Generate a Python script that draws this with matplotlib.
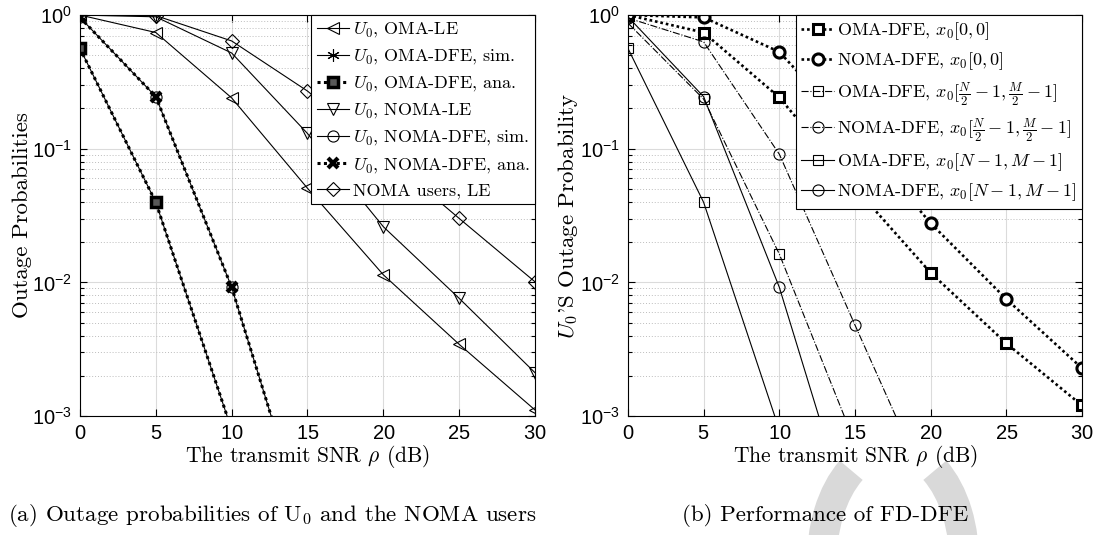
import matplotlib
matplotlib.use("Agg")
import matplotlib.pyplot as plt
from matplotlib.patches import Arc
from matplotlib.ticker import NullLocator, LogLocator
from matplotlib.transforms import IdentityTransform

snr = [0, 5, 10, 15, 20, 25, 30]

# (a) outage of U0 and of the NOMA users
u0_oma_le = [1.0, 0.74, 0.24, 0.0506, 0.0114, 0.00344, 0.00111]
u0_noma_le = [1.0, 0.97, 0.52, 0.130, 0.0261, 0.0076, 0.00211]
noma_users_le = [1.0, 0.99, 0.64, 0.27, 0.091, 0.0301, 0.0101]
u0_oma_dfe = [0.563, 0.0397, 0.00079]
u0_noma_dfe = [0.96, 0.245, 0.0092, 0.00013]

# (b) FD-DFE, different symbol positions
oma_dfe_00 = [1.0, 0.74, 0.242, 0.0511, 0.0118, 0.0035, 0.0012]
noma_dfe_00 = [1.0, 0.96, 0.53, 0.130, 0.0277, 0.0075, 0.00228]
oma_dfe_mid = [0.87, 0.235, 0.0163, 0.00063]
noma_dfe_mid = [0.95, 0.63, 0.091, 0.0048, 0.00026]
oma_dfe_last = [0.563, 0.0397, 0.00079]
noma_dfe_last = [0.97, 0.245, 0.0092, 0.00013]

labels_a = [r'$U_0$, OMA-LE', r'$U_0$, OMA-DFE, sim.', r'$U_0$, OMA-DFE, ana.',
            r'$U_0$, NOMA-LE', r'$U_0$, NOMA-DFE, sim.', r'$U_0$, NOMA-DFE, ana.',
            'NOMA users, LE']
labels_b = [r'OMA-DFE, $x_0[0,0]$', r'NOMA-DFE, $x_0[0,0]$',
            r'OMA-DFE, $x_0[\frac{N}{2}-1,\frac{M}{2}-1]$',
            r'NOMA-DFE, $x_0[\frac{N}{2}-1,\frac{M}{2}-1]$',
            r'OMA-DFE, $x_0[N-1,M-1]$', r'NOMA-DFE, $x_0[N-1,M-1]$']

plt.rcParams['font.family'] = 'cmr10'
plt.rcParams['mathtext.fontset'] = 'cm'
plt.rcParams['axes.unicode_minus'] = False
plt.rcParams['axes.formatter.use_mathtext'] = True

fig = plt.figure(figsize=(10.94, 5.35), dpi=100)
ax1 = fig.add_axes([0.0731, 0.2224, 0.4159, 0.7495])
ax2 = fig.add_axes([0.5740, 0.2224, 0.4150, 0.7495])

thin = dict(color='k', lw=0.8, mfc='none', mew=0.8)
bold_dots = dict(color='k', lw=1.9, ls=(0, (1, 1.1)), mfc='white', mew=2.2)


def curve(ax, y, **kw):
    ax.plot(snr[:len(y)], y, **kw)


# ---- (a)
curve(ax1, u0_oma_le, marker='<', ms=8, label=labels_a[0], **thin)
curve(ax1, u0_oma_dfe, marker=(6, 2, 0), ms=9, label=labels_a[1], **thin)
curve(ax1, u0_oma_dfe, marker='s', ms=7, label=labels_a[2],
      color='k', lw=2.2, ls=(0, (1, 1.1)), mfc='0.35', mew=2.5)
curve(ax1, u0_noma_le, marker='v', ms=8, label=labels_a[3], **thin)
curve(ax1, u0_noma_dfe, marker='o', ms=8, label=labels_a[4], **thin)
curve(ax1, u0_noma_dfe, marker='x', ms=7, label=labels_a[5],
      color='k', lw=2.2, ls=(0, (1, 1.1)), mew=3)
curve(ax1, noma_users_le, marker='D', ms=7, label=labels_a[6], **thin)

# ---- (b)
curve(ax2, oma_dfe_00, marker='s', ms=7, label=labels_b[0], **bold_dots)
curve(ax2, noma_dfe_00, marker='o', ms=8, label=labels_b[1], **bold_dots)
curve(ax2, oma_dfe_mid, marker='s', ms=7, ls='-.', label=labels_b[2], **thin)
curve(ax2, noma_dfe_mid, marker='o', ms=8, ls='-.', label=labels_b[3], **thin)
curve(ax2, oma_dfe_last, marker='s', ms=7, ls='-', label=labels_b[4], **thin)
curve(ax2, noma_dfe_last, marker='o', ms=8, ls='-', label=labels_b[5], **thin)

for ax in (ax1, ax2):
    ax.set_yscale('log')
    ax.set_xlim(0, 30)
    ax.set_ylim(1e-3, 1)
    ax.set_xticks([0, 5, 10, 15, 20, 25, 30])
    ax.xaxis.set_minor_locator(NullLocator())
    ax.yaxis.set_minor_locator(LogLocator(subs=range(2, 10)))
    ax.grid(True, which='major', color='0.86', lw=0.8, ls='-')
    ax.grid(True, which='minor', axis='y', color='0.74', lw=0.7, ls=(0, (1, 2)))
    ax.set_axisbelow(True)
    ax.tick_params(which='both', direction='in', top=True, right=True,
                   labelsize=14.5, labelfontfamily='Liberation Sans', width=0.8)
    ax.tick_params(which='major', length=5, pad=6)
    ax.tick_params(which='minor', length=3)
    for sp in ax.spines.values():
        sp.set_linewidth(0.8)
    ax.set_xlabel(r'The transmit SNR $\rho$ (dB)', fontsize=15.5, labelpad=0)
    leg = ax.legend(loc='upper right', bbox_to_anchor=(1, 1), borderaxespad=0,
                    fontsize=13, fancybox=False, framealpha=1, edgecolor='k',
                    handlelength=1.8, handletextpad=0.2, borderpad=0.3,
                    labelspacing=0.45)
    leg.get_frame().set_linewidth(0.8)

ax1.set_ylabel('Outage Probabilities', fontsize=16.5, labelpad=0)
ax2.set_ylabel(r"$U_0$'S Outage Probability", fontsize=16.5, labelpad=0)

# sub-captions
fig.text(0.249, 0.026, r'(a) Outage probabilities of U$_\mathrm{0}$ and the NOMA users',
         ha='center', fontsize=16.6)
fig.text(0.754, 0.026, '(b) Performance of FD-DFE', ha='center', fontsize=16.6)

# grey ring fragment at the bottom edge of the scan
for t1, t2 in ((115, 250), (-70, 65)):
    fig.add_artist(Arc((893, -25), 142, 222, theta1=t1, theta2=t2,
                       transform=IdentityTransform(), color='#d9d9d9', lw=21.6,
                       zorder=0))

fig.savefig('out.png', dpi=100)
